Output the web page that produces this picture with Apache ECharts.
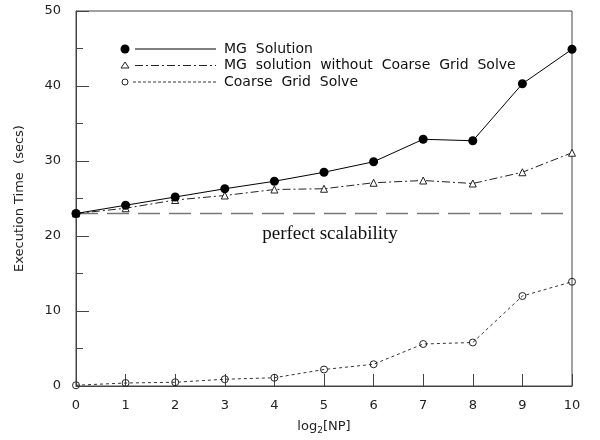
<!DOCTYPE html>
<html>
<head>
<meta charset="utf-8">
<script src="https://cdn.jsdelivr.net/npm/echarts@6/dist/echarts.min.js"></script>
<style>
  html, body { margin: 0; padding: 0; background: #fff; }
  #chart { width: 600px; height: 440px; }
</style>
</head>
<body>
<div id="chart"></div>
<script>
// log2(NP) 横轴
const np = [0, 1, 2, 3, 4, 5, 6, 7, 8, 9, 10]
// 三条曲线（秒）
const mgSolution = [23.0, 24.1, 25.2, 26.3, 27.3, 28.5, 29.9, 32.9, 32.7, 40.3, 44.9]
const mgNoCoarse = [23.0, 23.7, 24.8, 25.4, 26.2, 26.3, 27.1, 27.4, 27.0, 28.5, 31.1]
const coarseSolve = [0.1, 0.4, 0.5, 0.9, 1.1, 2.2, 2.9, 5.6, 5.8, 12.0, 13.9]
const perfectLevel = 23.0
const yTicks = [0, 10, 20, 30, 40, 50]

const pairs = (ys) => np.map((x, i) => [x, ys[i]])
const font = 'DejaVu Sans'

const chart = echarts.init(document.getElementById('chart'))

const option = {
  animation: false,
  grid: {
    left: 76, right: 28, top: 11, bottom: 50,
    show: true, borderColor: '#444', borderWidth: 1
  },
  xAxis: {
    type: 'value', min: 0, max: 10, interval: 1,
    name: '{a|log}{b|2}{a|[NP]}',
    nameLocation: 'middle', nameGap: 32,
    nameTextStyle: {
      rich: {
        a: { fontFamily: font, fontSize: 13, color: '#222' },
        b: { fontFamily: font, fontSize: 9, color: '#222', padding: [8, 0, 0, 0] }
      }
    },
    axisLine: { lineStyle: { color: '#444' } },
    axisTick: { inside: true, length: 12, lineStyle: { color: '#444' } },
    axisLabel: { fontFamily: font, fontSize: 13, color: '#222', margin: 13 },
    splitLine: { show: false }
  },
  yAxis: {
    type: 'value', min: yTicks[0], max: yTicks[yTicks.length - 1], interval: 10,
    name: 'Execution Time  (secs)',
    nameLocation: 'middle', nameGap: 50, nameRotate: 90,
    nameTextStyle: { fontFamily: font, fontSize: 13, color: '#222' },
    axisLine: { lineStyle: { color: '#444' } },
    axisTick: { inside: true, length: 13, lineStyle: { color: '#444' } },
    minorTick: { show: true, splitNumber: 2, length: 7, lineStyle: { color: '#444' } },
    axisLabel: { fontFamily: font, fontSize: 13, color: '#222', margin: 15 },
    splitLine: { show: false }
  },
  series: [
    {
      name: 'perfect scalability',
      type: 'line',
      data: [[0, perfectLevel], [10, perfectLevel]],
      symbol: 'none',
      lineStyle: { color: '#777', width: 1.5, type: [22, 9] },
      z: 1
    },
    {
      name: 'Coarse Grid Solve',
      type: 'line',
      data: pairs(coarseSolve),
      symbol: 'circle', symbolSize: 7,
      itemStyle: { color: 'rgba(255,255,255,0)', borderColor: '#222', borderWidth: 1 },
      lineStyle: { color: '#333', width: 1, type: [3, 3] }
    },
    {
      name: 'MG solution without Coarse Grid Solve',
      type: 'line',
      data: pairs(mgNoCoarse),
      symbol: 'triangle', symbolSize: 7,
      itemStyle: { color: '#fff', borderColor: '#222', borderWidth: 1 },
      lineStyle: { color: '#222', width: 1, type: [8, 3, 2, 3] }
    },
    {
      name: 'MG Solution',
      type: 'line',
      data: pairs(mgSolution),
      symbol: 'circle', symbolSize: 9,
      itemStyle: { color: '#000' },
      lineStyle: { color: '#000', width: 1 }
    }
  ],
  graphic: [
    // 图例
    { type: 'circle', shape: { cx: 125, cy: 49, r: 4.5 }, style: { fill: '#000' } },
    { type: 'line', shape: { x1: 135, y1: 49, x2: 216, y2: 49 }, style: { stroke: '#000', lineWidth: 1 } },
    { type: 'text', x: 224, y: 49, style: { text: 'MG  Solution', font: '14px DejaVu Sans', fill: '#111', verticalAlign: 'middle' } },
    { type: 'polygon', shape: { points: [[125, 62], [121, 68], [129, 68]] }, style: { fill: '#fff', stroke: '#222', lineWidth: 1 } },
    { type: 'line', shape: { x1: 135, y1: 65.5, x2: 216, y2: 65.5 }, style: { stroke: '#222', lineWidth: 1, lineDash: [8, 3, 2, 3] } },
    { type: 'text', x: 224, y: 65.5, style: { text: 'MG  solution  without  Coarse  Grid  Solve', font: '14px DejaVu Sans', fill: '#111', verticalAlign: 'middle' } },
    { type: 'circle', shape: { cx: 125, cy: 82, r: 3 }, style: { fill: '#fff', stroke: '#222', lineWidth: 1 } },
    { type: 'line', shape: { x1: 133, y1: 82, x2: 216, y2: 82 }, style: { stroke: '#333', lineWidth: 1, lineDash: [3, 2] } },
    { type: 'text', x: 224, y: 82, style: { text: 'Coarse  Grid  Solve', font: '14px DejaVu Sans', fill: '#111', verticalAlign: 'middle' } },
    // 注释
    { type: 'text', x: 330, y: 234, style: { text: 'perfect scalability', font: '19px Liberation Serif', fill: '#111', align: 'center', verticalAlign: 'middle' } }
  ]
}

chart.setOption(option)
</script>
</body>
</html>
